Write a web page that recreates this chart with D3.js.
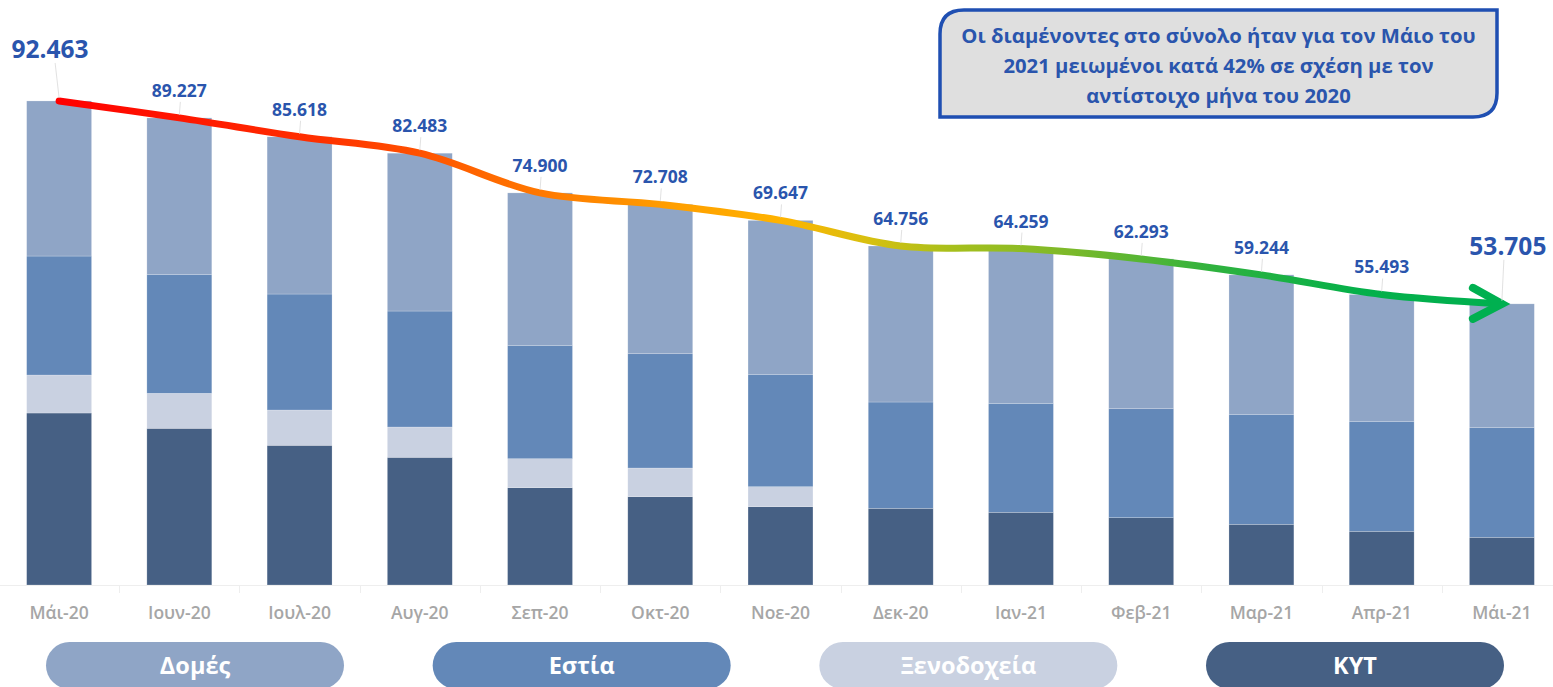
<!DOCTYPE html>
<html>
<head>
<meta charset="utf-8">
<script src="https://cdn.jsdelivr.net/npm/d3@7"></script>
<style>
  html, body { margin: 0; padding: 0; background: #ffffff; overflow: hidden; }
  svg { display: block; font-family: "Open Sans", "Noto Sans", sans-serif; }
</style>
</head>
<body>
<svg id="chart" width="1553" height="687"></svg>
<script>
const months = ["Μάι-20","Ιουν-20","Ιουλ-20","Αυγ-20","Σεπ-20","Οκτ-20","Νοε-20","Δεκ-20","Ιαν-21","Φεβ-21","Μαρ-21","Απρ-21","Μάι-21"];
const totals = [92463,89227,85618,82483,74900,72708,69647,64756,64259,62293,59244,55493,53705];
const kyt = [32852,29930,26683,24391,18584,16865,14955,14650,13886,12854,11594,10257,9111];
const xenodocheia = [7258,6685,6742,5787,5539,5482,3820,0,0,0,0,0,0];
const estia = [22729,22729,22156,22156,21659,21831,21468,20303,20819,20819,21010,21010,20934];
const domes = [29624,29883,30037,30149,29118,28530,29404,29803,29554,28620,26640,24226,23660];
const seriesNames = ["ΚΥΤ","Ξενοδοχεία","Εστία","Δομές"];
const legendOrder = ["Δομές","Εστία","Ξενοδοχεία","ΚΥΤ"];
const noteLines = ["Οι διαμένοντες στο σύνολο ήταν για τον Μάιο του","2021 μειωμένοι κατά 42% σε σχέση με τον","αντίστοιχο μήνα του 2020"];

const colors = {"Δομές":"#8fa5c6","Εστία":"#6388b8","Ξενοδοχεία":"#c9d1e1","ΚΥΤ":"#466084"};
const labelBlue = "#2a55ad";

const svg = d3.select("#chart");
const W = 1553, H = 687;
const baseY = 585;

const x = d3.scaleBand().domain(months).range([-1, 1562]).paddingInner(0.46).paddingOuter(0.23);
const y = d3.scaleLinear().domain([0, 100000]).range([baseY, 61.5]);

const rows = months.map((m, i) => ({month: m, "ΚΥΤ": kyt[i], "Ξενοδοχεία": xenodocheia[i], "Εστία": estia[i], "Δομές": domes[i]}));
const stacked = d3.stack().keys(seriesNames)(rows);

// axis baseline + category separators
const axisG = svg.append("g");
axisG.append("line").attr("x1", 0).attr("x2", W).attr("y1", baseY + 0.5).attr("y2", baseY + 0.5)
  .attr("stroke", "#eeeeee").attr("stroke-width", 1);
months.slice(1).forEach(m => {
  const bx = Math.round(x(m) - x.step() * x.paddingInner() / 2) + 0.5;
  axisG.append("line").attr("x1", bx).attr("x2", bx).attr("y1", baseY).attr("y2", baseY + 8)
    .attr("stroke", "#eeeeee").attr("stroke-width", 1);
});

// bars
svg.append("g").selectAll("g").data(stacked).join("g")
  .attr("fill", d => colors[d.key])
  .selectAll("rect").data(d => d.filter(p => p[1] - p[0] > 0)).join("rect")
  .attr("x", d => x(d.data.month))
  .attr("width", x.bandwidth())
  .attr("y", d => y(d[1]))
  .attr("height", d => y(d[0]) - y(d[1]))
  .attr("stroke", "rgba(255,255,255,0.35)").attr("stroke-width", 0.6);

// x labels
svg.append("g").selectAll("text").data(months).join("text")
  .attr("x", d => x(d) + x.bandwidth() / 2)
  .attr("y", 619)
  .attr("text-anchor", "middle")
  .attr("fill", "#a6a6a6")
  .attr("font-size", 17.5)
  .attr("font-weight", 600)
  .text(d => d);

// trend line with gradient
const pts = months.map((m, i) => [x(m) + x.bandwidth() / 2, y(totals[i])]);
const defs = svg.append("defs");
const grad = defs.append("linearGradient").attr("id", "trend")
  .attr("gradientUnits", "userSpaceOnUse")
  .attr("x1", pts[0][0]).attr("x2", pts[pts.length - 1][0]).attr("y1", 0).attr("y2", 0);
[[0, "#ff0000"], [0.18, "#ff3000"], [0.3, "#ff6a00"], [0.42, "#ff9d00"], [0.5, "#ffb300"],
 [0.56, "#d8c010"], [0.62, "#a6bf1c"], [0.7, "#7cb92a"], [0.8, "#2fb23e"], [0.9, "#05b04a"], [1, "#00b050"]]
  .forEach(([o, c]) => grad.append("stop").attr("offset", o).attr("stop-color", c));

const lineGen = d3.line().curve(d3.curveCatmullRom.alpha(0.5));
svg.append("path").attr("d", lineGen(pts))
  .attr("fill", "none").attr("stroke", "url(#trend)").attr("stroke-width", 7)
  .attr("stroke-linecap", "round");
const tip = pts[pts.length - 1];
svg.append("path")
  .attr("d", `M${tip[0] - 29},${tip[1] - 16}L${tip[0]},${tip[1]}L${tip[0] - 29},${tip[1] + 15}`)
  .attr("fill", "none").attr("stroke", "#00b050").attr("stroke-width", 8)
  .attr("stroke-linecap", "round").attr("stroke-linejoin", "miter");

// data labels with leader lines
const labelG = svg.append("g");
totals.forEach((v, i) => {
  const last = i === totals.length - 1, first = i === 0;
  const big = first || last;
  const cx = pts[i][0] + (first ? -9 : last ? 6 : 0);
  const cyBase = pts[i][1] - (first ? 43 : last ? 49 : 21);
  labelG.append("line")
    .attr("x1", cx + (first ? 5 : last ? -4 : 1)).attr("y1", cyBase + 5)
    .attr("x2", pts[i][0]).attr("y2", pts[i][1] - 3)
    .attr("stroke", "#d9d9d9").attr("stroke-width", 0.8);
  labelG.append("text")
    .attr("x", cx).attr("y", cyBase)
    .attr("text-anchor", "middle")
    .attr("fill", labelBlue)
    .attr("font-size", big ? 24.5 : 17.5)
    .attr("font-weight", 700)
    .text(d3.format(",")(v).replace(/,/g, "."));
});

// annotation box (rounded top-left and bottom-right corners)
const bx0 = 940, by0 = 10, bx1 = 1497, by1 = 117, r = 24;
svg.append("path")
  .attr("d", `M${bx0},${by0 + r}Q${bx0},${by0} ${bx0 + r},${by0}L${bx1},${by0}L${bx1},${by1 - r}Q${bx1},${by1} ${bx1 - r},${by1}L${bx0},${by1}Z`)
  .attr("fill", "#dfdfdf").attr("stroke", "#1f4fb2").attr("stroke-width", 3.5);
svg.append("g").selectAll("text").data(noteLines).join("text")
  .attr("x", (bx0 + bx1) / 2)
  .attr("y", (d, i) => 43 + i * 30)
  .attr("text-anchor", "middle")
  .attr("fill", labelBlue)
  .attr("font-size", 20.3)
  .attr("font-weight", 700)
  .text(d => d);

// legend pills
const legX = d3.scalePoint().domain(legendOrder).range([195, 1355]);
const lg = svg.append("g").selectAll("g").data(legendOrder).join("g")
  .attr("transform", d => `translate(${legX(d)},0)`);
lg.append("rect").attr("x", -149).attr("y", 642).attr("width", 298).attr("height", 47)
  .attr("rx", 23.5).attr("fill", d => colors[d]);
lg.append("text").attr("x", 0).attr("y", 673.5)
  .attr("text-anchor", "middle").attr("fill", "#ffffff")
  .attr("font-size", 23.5).attr("font-weight", 700)
  .text(d => d);
</script>
</body>
</html>
